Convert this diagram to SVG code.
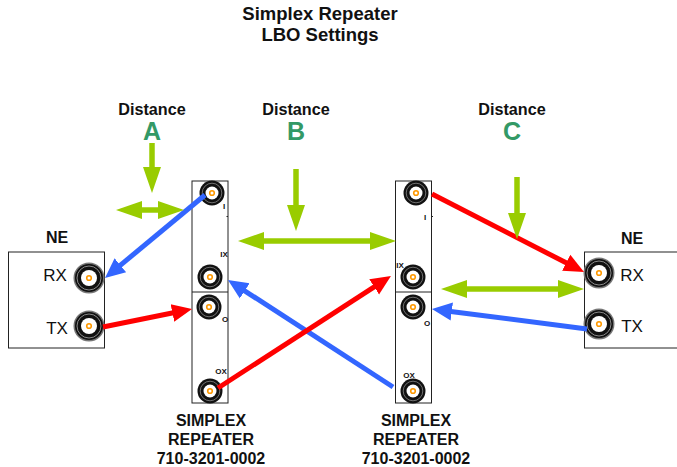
<svg xmlns="http://www.w3.org/2000/svg" xmlns:xlink="http://www.w3.org/1999/xlink" width="677" height="467" viewBox="0 0 677 467">
<style>
text{font-family:"Liberation Sans",Arial,sans-serif;text-anchor:middle;fill:#111}
.t{font-size:18.500px;font-weight:700}
.d{font-size:16.200px;font-weight:700}
.l{font-size:25px;font-weight:700;fill:#339966}
.b{font-size:16px;font-weight:700}
.p{font-size:17px}
.s{font-size:8px;font-weight:700}
.box{fill:#fff;stroke:#222;stroke-width:1}
.g{fill:none;stroke:#99cc00;stroke-width:5.500px}
.gh{marker-end:url(#ag)}
.gd{marker-start:url(#ag);marker-end:url(#ag)}
.r{fill:none;stroke:#ff0000;stroke-width:5px;marker-end:url(#ar)}
.u{fill:none;stroke:#3366ff;stroke-width:5px;marker-end:url(#au)}
</style>
<defs>
<marker id="ag" markerUnits="userSpaceOnUse" markerWidth="28" markerHeight="20" viewBox="0 -10 28 20" refX="1" refY="0" orient="auto-start-reverse"><path d="M0,-9L26,0L0,9Z" fill="#99cc00"/></marker>
<marker id="ar" markerUnits="userSpaceOnUse" markerWidth="22" markerHeight="22" viewBox="0 -11 22 22" refX="1" refY="0" orient="auto"><path d="M0,-9L20,0L0,9Z" fill="#ff0000"/></marker>
<marker id="au" markerUnits="userSpaceOnUse" markerWidth="22" markerHeight="22" viewBox="0 -11 22 22" refX="1" refY="0" orient="auto"><path d="M0,-9L20,0L0,9Z" fill="#3366ff"/></marker>
<g id="bnc">
<circle r="12.500" fill="#111"/>
<circle r="9.800" fill="none" stroke="#999" stroke-width=".7"/>
<circle r="6.500" fill="#fff"/>
<circle r="2.300" fill="none" stroke="#ff9900" stroke-width="1.600"/>
</g>
<g id="bncL">
<circle r="15.500" fill="#777"/>
<circle r="14" fill="#111"/>
<circle r="12" fill="none" stroke="#bbb" stroke-width=".7"/>
<circle r="8" fill="#fff"/>
<circle r="2.300" fill="none" stroke="#ff9900" stroke-width="1.600"/>
</g>
</defs>
<rect width="677" height="467" fill="#fff"/>
<g id="title"><text class="t" x="320" y="20">Simplex Repeater</text><text class="t" x="320" y="41">LBO Settings</text></g>
<g id="distance-a"><text class="d" x="152" y="115">Distance</text><text class="l" x="152" y="140">A</text></g>
<g id="distance-b"><text class="d" x="296" y="115">Distance</text><text class="l" x="296" y="140">B</text></g>
<g id="distance-c"><text class="d" x="512" y="115">Distance</text><text class="l" x="512" y="140">C</text></g>
<g id="ne-left">
<text class="b" x="57" y="243">NE</text>
<rect class="box" x="8.500" y="252" width="96" height="96"/>
<text class="p" x="55" y="281">RX</text><text class="p" x="57" y="334">TX</text>
<use xlink:href="#bncL" href="#bncL" x="89" y="278"/><use xlink:href="#bncL" href="#bncL" x="89" y="326"/>
</g>
<g id="ne-right">
<text class="b" x="632" y="244">NE</text>
<rect class="box" x="584.500" y="252" width="100" height="96"/>
<text class="p" x="632" y="281">RX</text><text class="p" x="632" y="332">TX</text>
<use xlink:href="#bncL" href="#bncL" x="599" y="273"/><use xlink:href="#bncL" href="#bncL" x="599" y="324"/>
</g>
<g id="repeater-left">
<rect class="box" x="192" y="181" width="36" height="222"/>
<path d="M192,292H228M228,216.500h-1.500" stroke="#222" fill="none"/>
<use xlink:href="#bnc" href="#bnc" x="212" y="193"/><use xlink:href="#bnc" href="#bnc" x="210" y="277"/><use xlink:href="#bnc" href="#bnc" x="209" y="307"/><use xlink:href="#bnc" href="#bnc" x="210" y="391"/>
<text class="s" x="224" y="209">I</text><text class="s" x="224" y="257">IX</text><text class="s" x="225" y="322">O</text><text class="s" x="221" y="374">OX</text>
<text class="b" x="211" y="426">SIMPLEX</text><text class="b" x="211" y="445">REPEATER</text><text class="b" x="211" y="464">710-3201-0002</text>
</g>
<g id="repeater-right">
<rect class="box" x="395.500" y="181" width="36" height="222"/>
<path d="M395.500,292H431.500M431.500,216.500h1.500" stroke="#222" fill="none"/>
<use xlink:href="#bnc" href="#bnc" x="416" y="193"/><use xlink:href="#bnc" href="#bnc" x="413" y="277"/><use xlink:href="#bnc" href="#bnc" x="413" y="307"/><use xlink:href="#bnc" href="#bnc" x="413" y="391"/>
<text class="s" x="425" y="220">I</text><text class="s" x="400" y="268">IX</text><text class="s" x="427" y="326">O</text><text class="s" x="409" y="378">OX</text>
<text class="b" x="416" y="426">SIMPLEX</text><text class="b" x="416" y="445">REPEATER</text><text class="b" x="416" y="464">710-3201-0002</text>
</g>
<g id="connectors">
<path class="u" d="M205,195L119.600,265.900"/>
<path class="r" d="M103,327L173.400,312.800"/>
<path class="u" d="M393,387L243.900,290.300"/>
<path class="r" d="M218,388L375,286.300"/>
<path class="r" d="M432,194L567.100,263.300"/>
<path class="u" d="M587,329L450.800,311.400"/>
<path class="g gh" d="M152,143V168"/>
<path class="g gh" d="M296,169V206"/>
<path class="g gh" d="M517,177V214"/>
<path class="g gd" d="M141,210H159"/>
<path class="g gd" d="M263,241H371"/>
<path class="g gd" d="M466,289H559"/>
</g>
</svg>
